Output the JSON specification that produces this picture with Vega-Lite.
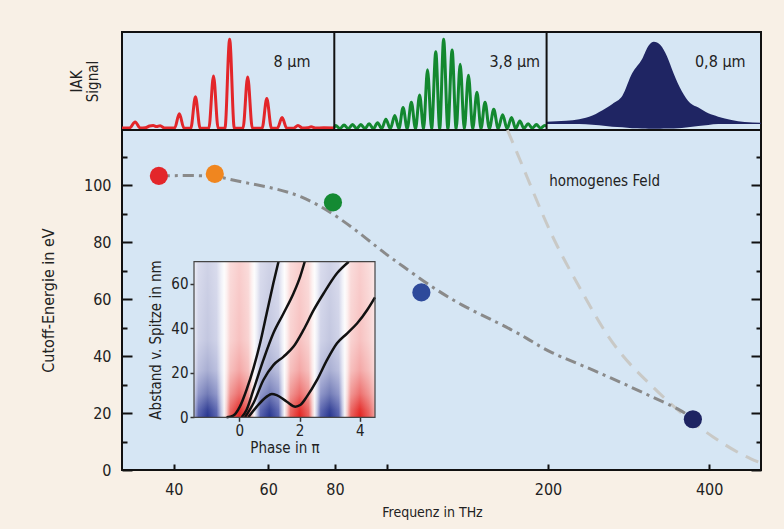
{
  "$schema": "https://vega.github.io/schema/vega-lite/v6.json",
  "background": "#f8f0e6",
  "padding": {"left": 40, "top": 31, "right": 20, "bottom": 10},
  "config": {
    "font": "DejaVu Sans Condensed, sans-serif",
    "view": {"fill": "#d6e6f4", "stroke": "#111111", "strokeWidth": 2},
    "axis": {"labelFontSize": 16, "titleFontSize": 14, "titleFontWeight": "normal", "labelColor": "#222222", "titleColor": "#222222", "tickColor": "#111111", "domainColor": "#111111", "grid": false, "tickWidth": 2}
  },
  "width": 639,
  "height": 438,
  "layer": [
    {
      "layer": [
        {
          "data": {"values": [
            {"t":0,"s":0.012},{"t":3.5,"s":0.012},{"t":6.2,"s":0.08},{"t":8.6,"s":0.012},{"t":11,"s":0.015},{"t":13,"s":0.035},{"t":14.7,"s":0.04},{"t":16.3,"s":0.028},{"t":18,"s":0.038},{"t":20,"s":0.012},{"t":24.8,"s":0.012},{"t":27,"s":0.17},{"t":29.2,"s":0.01},{"t":32.4,"s":0.01},{"t":34.6,"s":0.36},{"t":36.8,"s":0.01},{"t":40.9,"s":0.01},{"t":43.1,"s":0.59},{"t":45.3,"s":0.01},{"t":48.5,"s":0.01},{"t":50.7,"s":1.0},{"t":52.9,"s":0.01},{"t":57,"s":0.01},{"t":59.2,"s":0.58},{"t":61.4,"s":0.01},{"t":66,"s":0.01},{"t":68.2,"s":0.34},{"t":70.4,"s":0.01},{"t":73.2,"s":0.01},{"t":75.4,"s":0.13},{"t":77.6,"s":0.01},{"t":80.8,"s":0.01},{"t":82.9,"s":0.04},{"t":85,"s":0.012},{"t":87.5,"s":0.015},{"t":89.1,"s":0.025},{"t":91,"s":0.012},{"t":95,"s":0.015},{"t":100,"s":0.012}
          ]},
          "mark": {"type": "line", "color": "#e3262a", "strokeWidth": 3, "interpolate": "monotone"},
          "encoding": {
            "x": {"field": "t", "type": "quantitative", "scale": {"domain": [0, 301], "nice": false, "zero": false}, "axis": null},
            "y": {"field": "s", "type": "quantitative", "scale": {"domain": [-0.01, 1.08], "range": [98, 0], "nice": false, "zero": false},
                  "axis": {"orient": "left", "title": ["IAK", "Signal"], "titleFontSize": 15, "titleLineHeight": 16, "labels": false, "ticks": false, "domain": false, "titlePadding": 22}}
          }
        },
        {
          "data": {"values": [
            {"t":100,"s":0.02},{"t":100.65,"s":0.04},{"t":102.6,"s":0.005},{"t":104.6,"s":0.045},{"t":106.6,"s":0.005},{"t":108.6,"s":0.05},{"t":110.55,"s":0.005},{"t":112.5,"s":0.05},{"t":114.45,"s":0.005},{"t":116.4,"s":0.06},{"t":118.4,"s":0.005},{"t":120.4,"s":0.07},{"t":122.35,"s":0.005},{"t":124.3,"s":0.11},{"t":126.4,"s":0.005},{"t":128.5,"s":0.15},{"t":130.45,"s":0.005},{"t":132.4,"s":0.24},{"t":134.35,"s":0.003},{"t":136.3,"s":0.3},{"t":138.25,"s":0.003},{"t":140.2,"s":0.38},{"t":142.05,"s":0.002},{"t":143.9,"s":0.66},{"t":145.85,"s":0.002},{"t":147.8,"s":0.86},{"t":149.65,"s":0.002},{"t":151.5,"s":1.0},{"t":153.5,"s":0.002},{"t":155.5,"s":0.88},{"t":157.4,"s":0.002},{"t":159.3,"s":0.72},{"t":161.25,"s":0.002},{"t":163.2,"s":0.6},{"t":165.2,"s":0.002},{"t":167.2,"s":0.41},{"t":169.1,"s":0.003},{"t":171,"s":0.3},{"t":173.05,"s":0.003},{"t":175.1,"s":0.22},{"t":177.2,"s":0.005},{"t":179.3,"s":0.16},{"t":181.4,"s":0.005},{"t":183.5,"s":0.13},{"t":185.45,"s":0.005},{"t":187.4,"s":0.09},{"t":189.35,"s":0.008},{"t":191.3,"s":0.06},{"t":193.25,"s":0.01},{"t":195.2,"s":0.05},{"t":197.15,"s":0.01},{"t":199.1,"s":0.04},{"t":200,"s":0.035}
          ]},
          "mark": {"type": "line", "color": "#13882f", "strokeWidth": 3, "interpolate": "monotone"},
          "encoding": {
            "x": {"field": "t", "type": "quantitative", "axis": null},
            "y": {"field": "s", "type": "quantitative"}
          }
        },
        {
          "data": {"values": [
            {"t":200,"s":0.082,"lo":0.057},{"t":209.2,"s":0.093,"lo":0.057},{"t":215.4,"s":0.109,"lo":0.057},{"t":221.6,"s":0.15,"lo":0.048},{"t":224.8,"s":0.19,"lo":0.042},{"t":231,"s":0.28,"lo":0.027},{"t":235.7,"s":0.37,"lo":0.02},{"t":240.3,"s":0.62,"lo":0.009},{"t":245,"s":0.78,"lo":0.007},{"t":248.1,"s":0.93,"lo":0.005},{"t":250.5,"s":0.972,"lo":0.004},{"t":253.6,"s":0.935,"lo":0.005},{"t":256.7,"s":0.81,"lo":0.006},{"t":259.8,"s":0.62,"lo":0.008},{"t":263.7,"s":0.42,"lo":0.012},{"t":267.6,"s":0.29,"lo":0.022},{"t":271.5,"s":0.24,"lo":0.034},{"t":276.2,"s":0.175,"lo":0.046},{"t":280.8,"s":0.138,"lo":0.057},{"t":287.1,"s":0.101,"lo":0.057},{"t":293.3,"s":0.079,"lo":0.057},{"t":301,"s":0.071,"lo":0.057}
          ]},
          "mark": {"type": "area", "color": "#1f2563", "interpolate": "monotone"},
          "encoding": {
            "x": {"field": "t", "type": "quantitative", "axis": null},
            "y": {"field": "s", "type": "quantitative"},
            "y2": {"field": "lo"}
          }
        },
        {
          "data": {"values": [{"t": 80.1, "s": 0.746, "lab": "8 µm"}, {"t": 185, "s": 0.746, "lab": "3,8 µm"}, {"t": 281.8, "s": 0.746, "lab": "0,8 µm"}]},
          "mark": {"type": "text", "fontSize": 16, "color": "#222222"},
          "encoding": {
            "x": {"field": "t", "type": "quantitative", "axis": null},
            "y": {"field": "s", "type": "quantitative"},
            "text": {"field": "lab"}
          }
        },
        {
          "data": {"values": [{"t": 100, "s": -0.01, "s2": 1.08}, {"t": 200, "s": -0.01, "s2": 1.08}]},
          "mark": {"type": "rule", "color": "#111111", "strokeWidth": 2},
          "encoding": {
            "x": {"field": "t", "type": "quantitative", "axis": null},
            "y": {"field": "s", "type": "quantitative"},
            "y2": {"field": "s2"}
          }
        },
        {
          "data": {"values": [{"t": 0, "t2": 301, "s": -0.01}]},
          "mark": {"type": "rule", "color": "#111111", "strokeWidth": 2},
          "encoding": {
            "x": {"field": "t", "type": "quantitative", "axis": null},
            "x2": {"field": "t2"},
            "y": {"field": "s", "type": "quantitative"}
          }
        }
      ]
    },
    {
      "layer": [
        {
          "data": {"values": [
            {"f":168,"e":119.3},{"f":174.7,"e":111.7},{"f":205.5,"e":80.7},{"f":230.4,"e":63.2},{"f":259.6,"e":46.7},{"f":321,"e":27.4},{"f":407,"e":11.6},{"f":459,"e":5.6},{"f":494,"e":2.8}
          ]},
          "mark": {"type": "line", "color": "#c9c9c6", "strokeWidth": 3, "strokeDash": [14, 9], "interpolate": "monotone"},
          "encoding": {
            "x": {"field": "f", "type": "quantitative", "scale": {"type": "log", "domain": [32, 500], "nice": false},
                  "axis": {"orient": "bottom", "title": "Frequenz in THz", "values": [40, 60, 80, 100, 200, 400], "labelExpr": "datum.value == 100 ? '' : datum.label", "domain": false, "tickSize": -6, "labelPadding": 17, "titlePadding": 8, "titleX": 310}},
            "y": {"field": "e", "type": "quantitative", "scale": {"domain": [0, 119.3], "range": [438, 98], "nice": false},
                  "axis": {"orient": "left", "title": "Cutoff-Energie in eV", "titleFontSize": 16, "values": [0, 10, 20, 30, 40, 50, 60, 70, 80, 90, 100, 110], "labelExpr": "datum.value % 20 == 0 ? datum.label : ''", "domain": false,
                           "tickSize": {"condition": {"test": "datum.value % 20 == 0", "value": -10}, "value": -5}, "labelPadding": 21, "titlePadding": 27}}
          }
        },
        {
          "data": {"values": [
            {"f":37.5,"e":103.2},{"f":47.7,"e":103.5},{"f":51.8,"e":101.5},{"f":59.9,"e":99.4},{"f":69.1,"e":96.5},{"f":80.3,"e":89.5},{"f":92.4,"e":80.7},{"f":99.1,"e":76.0},{"f":106.4,"e":71.9},{"f":120.2,"e":64.7},{"f":137.9,"e":57.7},{"f":161.4,"e":51.7},{"f":184,"e":46},{"f":200,"e":41.4},{"f":243.9,"e":35.1},{"f":307.4,"e":26.3},{"f":354.7,"e":21.1},{"f":373,"e":17.9}
          ]},
          "mark": {"type": "line", "color": "#8a8a8a", "strokeWidth": 3, "strokeDash": [11, 5, 3, 5], "interpolate": "basis"},
          "encoding": {
            "x": {"field": "f", "type": "quantitative"},
            "y": {"field": "e", "type": "quantitative", "axis": null}
          }
        },
        {
          "data": {"values": [
            {"f":37.5,"e":103.2,"lam":"8 µm"},{"f":47.7,"e":103.9,"lam":"6,3 µm"},{"f":79.3,"e":93.9,"lam":"3,8 µm"},{"f":116,"e":62.3,"lam":"2,6 µm"},{"f":373,"e":17.8,"lam":"0,8 µm"}
          ]},
          "mark": {"type": "circle", "size": 330, "opacity": 1},
          "encoding": {
            "x": {"field": "f", "type": "quantitative"},
            "y": {"field": "e", "type": "quantitative", "axis": null},
            "color": {"field": "lam", "type": "nominal", "scale": {"domain": ["8 µm", "6,3 µm", "3,8 µm", "2,6 µm", "0,8 µm"], "range": ["#e3262a", "#f0861f", "#148a33", "#2e4a9b", "#1e2462"]}, "legend": null}
          }
        },
        {
          "data": {"values": [{"f": 201, "e": 101.3, "lab": "homogenes Feld"}]},
          "mark": {"type": "text", "fontSize": 15, "color": "#222222", "align": "left", "baseline": "middle"},
          "encoding": {
            "x": {"field": "f", "type": "quantitative"},
            "y": {"field": "e", "type": "quantitative", "axis": null},
            "text": {"field": "lab"}
          }
        },
        {
          "data": {"values": [{"f": 37.5, "e": 103.2}, {"f": 373, "e": 17.8}]},
          "mark": {"type": "circle", "opacity": 0},
          "encoding": {
            "x": {"field": "f", "type": "quantitative"},
            "y": {"field": "e", "type": "quantitative",
                  "axis": {"orient": "right", "title": null, "labels": false, "domain": false, "values": [0, 10, 20, 30, 40, 50, 60, 70, 80, 90, 100, 110],
                           "tickSize": {"condition": {"test": "datum.value % 20 == 0", "value": -10}, "value": -5}}}
          }
        }
      ],
      "resolve": {"axis": {"y": "independent"}}
    },
    {
      "layer": [
        {
          "data": {"values": [{"p1": -1.5, "p2": 4.5, "d1": 0, "d2": 70}]},
          "mark": {"type": "rect", "fill": {"gradient": "linear", "x1": 0, "y1": 0, "x2": 1, "y2": 0, "stops": [
            {"offset": 0, "color": "#b5bade"},
            {"offset": 0.025, "color": "#5560ad"},
            {"offset": 0.075, "color": "#27358f"},
            {"offset": 0.125, "color": "#5560ad"},
            {"offset": 0.15, "color": "#c0c4e2"},
            {"offset": 0.1667, "color": "#f6f4f6"},
            {"offset": 0.18, "color": "#f7c8c6"},
            {"offset": 0.2, "color": "#e9605c"},
            {"offset": 0.25, "color": "#e3221f"},
            {"offset": 0.3, "color": "#e9605c"},
            {"offset": 0.32, "color": "#f7c8c6"},
            {"offset": 0.3333, "color": "#f6f4f6"},
            {"offset": 0.3467, "color": "#c0c4e2"},
            {"offset": 0.3667, "color": "#5560ad"},
            {"offset": 0.4167, "color": "#27358f"},
            {"offset": 0.4667, "color": "#5560ad"},
            {"offset": 0.4867, "color": "#c0c4e2"},
            {"offset": 0.5, "color": "#f6f4f6"},
            {"offset": 0.5133, "color": "#f7c8c6"},
            {"offset": 0.5333, "color": "#e9605c"},
            {"offset": 0.5833, "color": "#e3221f"},
            {"offset": 0.6333, "color": "#e9605c"},
            {"offset": 0.6533, "color": "#f7c8c6"},
            {"offset": 0.6667, "color": "#f6f4f6"},
            {"offset": 0.68, "color": "#c0c4e2"},
            {"offset": 0.7, "color": "#5560ad"},
            {"offset": 0.75, "color": "#27358f"},
            {"offset": 0.8, "color": "#5560ad"},
            {"offset": 0.82, "color": "#c0c4e2"},
            {"offset": 0.8333, "color": "#f6f4f6"},
            {"offset": 0.8467, "color": "#f7c8c6"},
            {"offset": 0.8667, "color": "#e9605c"},
            {"offset": 0.9167, "color": "#e3221f"},
            {"offset": 0.9667, "color": "#e9605c"},
            {"offset": 1, "color": "#f2a09d"}
          ]}},
          "encoding": {
            "x": {"field": "p1", "type": "quantitative", "scale": {"domain": [-1.5, 4.5], "range": [72, 253], "nice": false, "zero": false},
                  "axis": {"orient": "bottom", "offset": -52.7, "title": "Phase in π", "values": [0, 2, 4], "format": "d", "domain": false, "tickSize": 4, "tickWidth": 1.5, "tickColor": "#333333", "labelPadding": 2, "labelFontSize": 15, "titleFontSize": 15, "titlePadding": 2}},
            "x2": {"field": "p2"},
            "y": {"field": "d1", "type": "quantitative", "scale": {"domain": [0, 70], "range": [385.3, 229.7], "nice": false, "zero": false},
                  "axis": {"orient": "left", "offset": -72, "title": "Abstand v. Spitze in nm", "values": [0, 20, 40, 60], "format": "d", "domain": false, "tickSize": 4, "tickWidth": 1.5, "tickColor": "#333333", "labelPadding": 2, "labelFontSize": 15, "titleFontSize": 15, "titlePadding": 7}},
            "y2": {"field": "d2"}
          }
        },
        {
          "data": {"values": [{"p1": -1.5, "p2": 4.5, "d1": 0, "d2": 70}]},
          "mark": {"type": "rect", "fill": {"gradient": "linear", "x1": 0, "y1": 1, "x2": 0, "y2": 0, "stops": [
            {"offset": 0, "color": "rgba(255,255,255,0)"},
            {"offset": 0.05, "color": "rgba(255,255,255,0.08)"},
            {"offset": 0.15, "color": "rgba(255,255,255,0.35)"},
            {"offset": 0.3, "color": "rgba(255,255,255,0.6)"},
            {"offset": 0.5, "color": "rgba(255,255,255,0.72)"},
            {"offset": 1, "color": "rgba(255,255,255,0.78)"}
          ]}},
          "encoding": {
            "x": {"field": "p1", "type": "quantitative"},
            "x2": {"field": "p2"},
            "y": {"field": "d1", "type": "quantitative"},
            "y2": {"field": "d2"}
          }
        },
        {
          "data": {"values": [
            {"tr":1,"p":-0.42,"d":0},{"tr":1,"p":-0.2,"d":0.75},{"tr":1,"p":0.02,"d":4.8},{"tr":1,"p":0.24,"d":12.3},{"tr":1,"p":0.47,"d":22},{"tr":1,"p":0.69,"d":33.3},{"tr":1,"p":0.91,"d":46.8},{"tr":1,"p":1.13,"d":60.3},{"tr":1,"p":1.3,"d":70},
            {"tr":2,"p":0.08,"d":0},{"tr":2,"p":0.24,"d":3.3},{"tr":2,"p":0.47,"d":12.3},{"tr":2,"p":0.8,"d":25.8},{"tr":2,"p":1.13,"d":37.8},{"tr":2,"p":1.47,"d":46.8},{"tr":2,"p":1.8,"d":55.8},{"tr":2,"p":2.02,"d":63.3},{"tr":2,"p":2.17,"d":70},
            {"tr":3,"p":0.19,"d":0},{"tr":3,"p":0.47,"d":6.3},{"tr":3,"p":0.8,"d":16.8},{"tr":3,"p":1.13,"d":23.5},{"tr":3,"p":1.47,"d":27.3},{"tr":3,"p":1.8,"d":31.8},{"tr":3,"p":2.13,"d":39.3},{"tr":3,"p":2.47,"d":48.3},{"tr":3,"p":2.8,"d":55.8},{"tr":3,"p":3.24,"d":64.8},{"tr":3,"p":3.63,"d":70},
            {"tr":4,"p":0.3,"d":0},{"tr":4,"p":0.58,"d":4.8},{"tr":4,"p":0.91,"d":9.3},{"tr":4,"p":1.08,"d":10.5},{"tr":4,"p":1.24,"d":10},{"tr":4,"p":1.58,"d":7},{"tr":4,"p":1.86,"d":4.8},{"tr":4,"p":2.02,"d":5.5},{"tr":4,"p":2.24,"d":9.3},{"tr":4,"p":2.58,"d":16.8},{"tr":4,"p":2.91,"d":25.8},{"tr":4,"p":3.24,"d":33.3},{"tr":4,"p":3.58,"d":37.8},{"tr":4,"p":3.91,"d":42.3},{"tr":4,"p":4.24,"d":48.3},{"tr":4,"p":4.5,"d":54}
          ]},
          "mark": {"type": "line", "color": "#111111", "strokeWidth": 2.5, "interpolate": "monotone"},
          "encoding": {
            "x": {"field": "p", "type": "quantitative"},
            "y": {"field": "d", "type": "quantitative"},
            "detail": {"field": "tr", "type": "nominal"}
          }
        },
        {
          "data": {"values": [{"p1": -1.5, "p2": 4.5, "d1": 0, "d2": 70}]},
          "mark": {"type": "rect", "fillOpacity": 0, "stroke": "#444444", "strokeWidth": 1.2},
          "encoding": {
            "x": {"field": "p1", "type": "quantitative"},
            "x2": {"field": "p2"},
            "y": {"field": "d1", "type": "quantitative"},
            "y2": {"field": "d2"}
          }
        }
      ]
    }
  ],
  "resolve": {"scale": {"x": "independent", "y": "independent"}}
}
